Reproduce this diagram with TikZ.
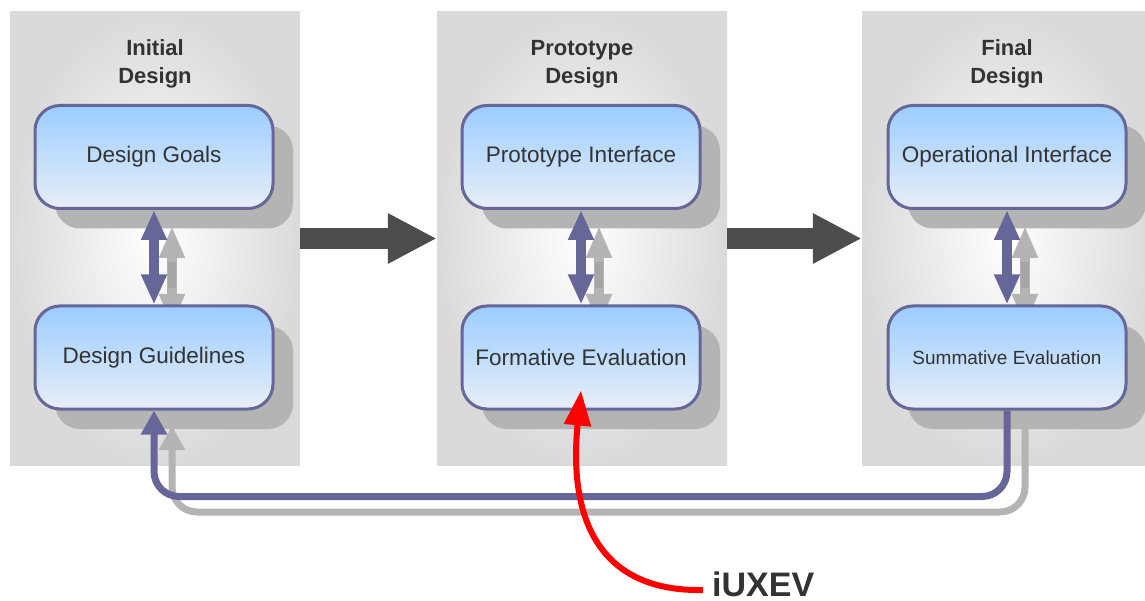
\documentclass[tikz,border=0pt]{standalone}
\usepackage{fontspec}
\setmainfont{Liberation Sans}
\definecolor{panelgray}{RGB}{218, 218, 218}
\definecolor{shadowgray}{RGB}{180, 180, 180}
\definecolor{framepurple}{RGB}{102, 102, 153}
\definecolor{boxtop}{RGB}{155, 205, 255}
\definecolor{boxbottom}{RGB}{232, 238, 248}
\definecolor{textgray}{RGB}{51, 51, 51}
\definecolor{stagegray}{RGB}{77, 77, 77}
\usepackage{tikz}
\usetikzlibrary{positioning,shapes,arrows.meta,calc,shadows}

\begin{document}
\begin{tikzpicture}[x=1pt,y=-1pt,
    panel/.style={rectangle,minimum width=290,minimum height=453,inner color=white,outer color=panelgray},
    title/.style={align=center,text=textgray,font=\fontsize{22}{28}\selectfont\bfseries},
    stagebox/.style={draw=framepurple,line width=3,rounded corners=25,minimum width=238,minimum height=103,
        top color=boxtop,bottom color=boxbottom,text=textgray,font=\fontsize{22.5}{26}\selectfont,
        general shadow={fill=shadowgray,shadow xshift=20pt,shadow yshift=-20pt}},
    dbl/.style={{Triangle[length=30,width=24]}-{Triangle[length=30,width=24]},line width=10,framepurple},
    dblshadow/.style={{Triangle[length=32,width=24]}-{Triangle[length=32,width=24]},line width=10,shadowgray},
    stage arrow/.style={-{Triangle[length=49,width=47]},line width=21,stagegray},
    feedback/.style={-{Triangle[length=24,width=25]},line width=7,rounded corners=25,framepurple},
    feedshadow/.style={-{Triangle[length=24,width=25]},line width=7,rounded corners=25,shadowgray}]
    \useasboundingbox (0,0) rectangle (1145,601);

    % three stages
    \node[panel] (p1) at (155,238.5) {};
    \node[panel] (p2) at (582,238.5) {};
    \node[panel] (p3) at (1007,238.5) {};
    \node[title] (t1) at (155,64) {Initial\\Design};
    \node[title] (t2) at (582,64) {Prototype\\Design};
    \node[title] (t3) at (1007,64) {Final\\Design};

    \draw[stage arrow] (p1.east) -- (p2.west);
    \draw[stage arrow] (p2.east) -- (p3.west);

    % shadows of the links
    \coordinate (s1a) at (172,226);
    \coordinate (s1b) at (172,326);
    \coordinate (s2a) at (599,226);
    \coordinate (s2b) at (599,326);
    \coordinate (s3a) at (1025,226);
    \coordinate (s3b) at (1025,326);
    \draw[dblshadow] (s1a) -- (s1b);
    \draw[dblshadow] (s2a) -- (s2b);
    \draw[dblshadow] (s3a) -- (s3b);
    \draw[line width=8,gray!70] (172,262) -- (172,288);
    \draw[line width=8,gray!70] (599,262) -- (599,288);
    \draw[line width=8,gray!70] (1025,262) -- (1025,288);
    \coordinate (fbs) at (1025,426);
    \coordinate (fbe) at (172,426);
    \draw[feedshadow] (fbs) -- ++(0,86) -| (fbe);

    % boxes
    \node[stagebox] (goals) at (154,157) {Design Goals};
    \node[stagebox] (guide) at (154,357.5) {Design Guidelines};
    \node[stagebox] (proto) at (581,157) {Prototype Interface};
    \node[stagebox] (form) at (581,357.5) {Formative Evaluation};
    \node[stagebox] (oper) at (1007,157) {Operational Interface};
    \node[stagebox,font=\fontsize{19}{22}\selectfont] (summ) at (1007,357.5) {Summative Evaluation};

    \draw[dbl] (goals) -- (guide);
    \draw[dbl] (proto) -- (form);
    \draw[dbl] (oper) -- (summ);
    \draw[feedback] (summ.south) -- ++(0,86) -| (guide.south);

    % iUXEV
    \node[anchor=west,inner sep=0,text=textgray,font=\fontsize{34}{34}\selectfont\bfseries] (iux) at (712,584) {iUXEV};
    \coordinate (tip) at ($(form.south)+(0,-20)$);
    \draw[-{Triangle[length=35,width=26]},line width=6,red] ($(iux.west)+(-9,6)$) .. controls (600,592) and (568,520) .. (tip);
\end{tikzpicture}
\end{document}
